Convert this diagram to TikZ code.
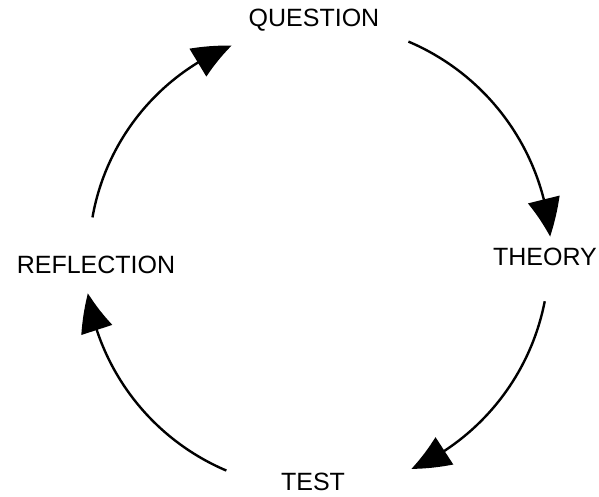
\documentclass[tikz,border=0pt]{standalone}
\usepackage{fontspec}
\setmainfont{Liberation Sans}
\usetikzlibrary{arrows.meta,bending,calc}
\begin{document}
\begin{tikzpicture}[x=1pt,y=1pt,
  lbl/.style={font=\fontsize{25}{28}\selectfont, inner sep=0pt},
  cyc/.style={line width=2.4pt, -{Triangle[length=38pt,width=32pt,bend]}}]
\useasboundingbox (0,0) rectangle (599,497);
\coordinate (c) at (317,240);
\node[lbl] (question) at (314,477) {QUESTION};
\node[lbl] (theory) at (545,240) {THEORY};
\node[lbl] (test) at (313,15) {TEST};
\node[lbl] (reflection) at (96,232) {REFLECTION};
\coordinate (s1) at ($(c)+(67:234)$);
\coordinate (s2) at ($(c)+(-11:232)$);
\coordinate (s3) at ($(c)+(-113:232)$);
\coordinate (s4) at ($(c)+(170:228)$);
\draw[cyc] (s1) arc[start angle=67,end angle=5,radius=234];
\draw[cyc] (s2) arc[start angle=-11,end angle=-66,radius=232];
\draw[cyc] (s3) arc[start angle=-113,end angle=-171,radius=232];
\draw[cyc] (s4) arc[start angle=170,end angle=112,radius=228];
\end{tikzpicture}
\end{document}
